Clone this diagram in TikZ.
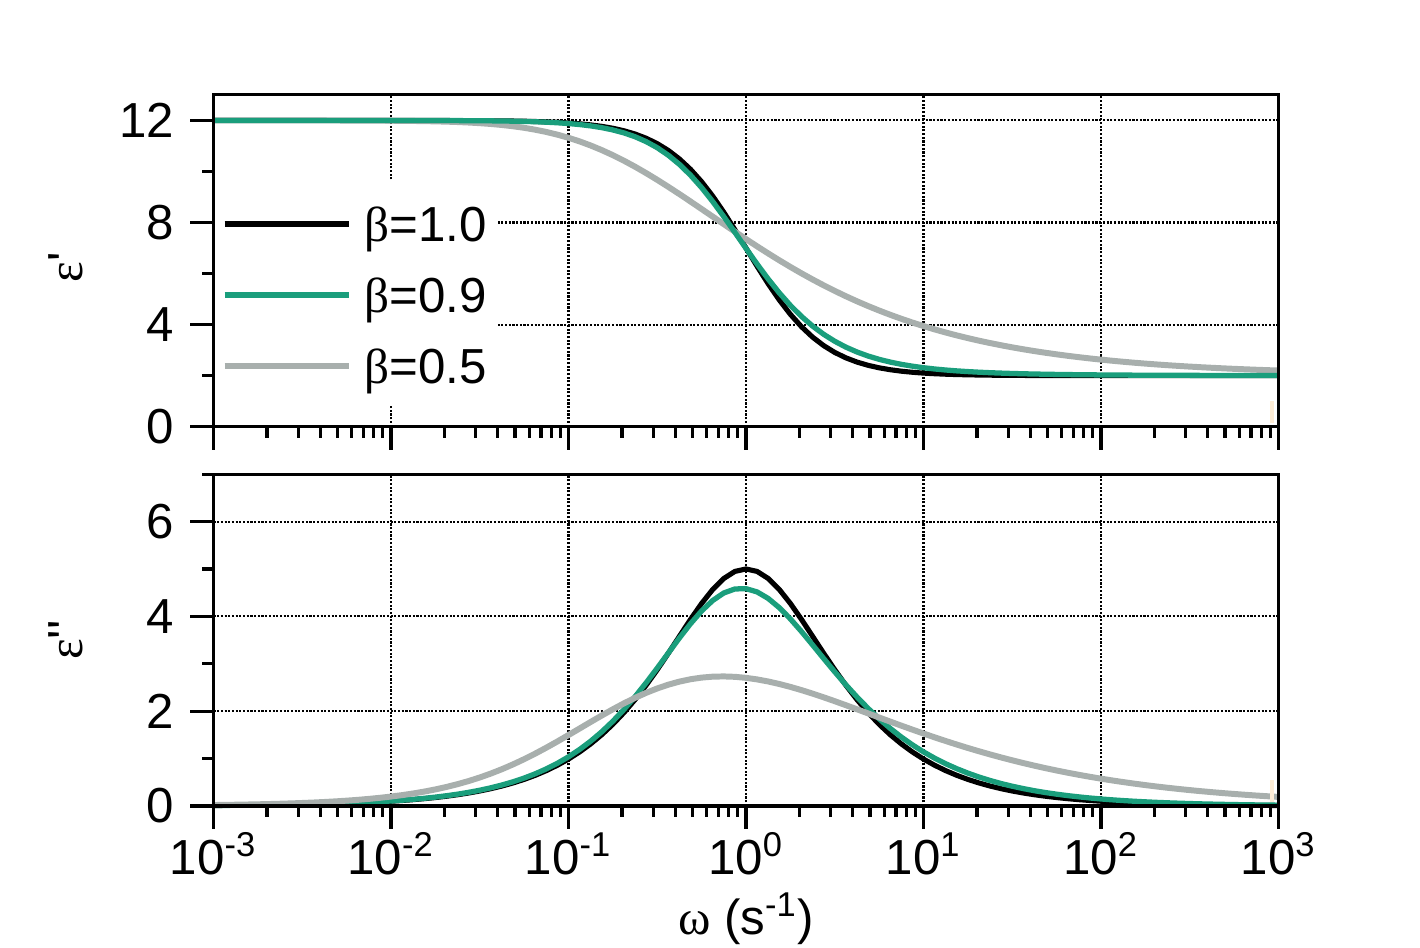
\documentclass[tikz,border=0pt]{standalone}
\usepackage{fontspec}
\setmainfont{Liberation Sans}
\newfontfamily\grk{Liberation Serif}
\newfontfamily\plain{Liberation Sans}
\definecolor{kgreen}{RGB}{26,158,124}
\definecolor{kgray}{RGB}{168,175,173}
\definecolor{peach}{RGB}{253,236,213}

\ExplSyntaxOn
\fp_new:N \l_kww_cb_fp
\fp_new:N \l_kww_sb_fp
\fp_new:N \l_kww_L_fp
\fp_new:N \l_kww_q_fp
\fp_new:N \l_kww_qmax_fp
\fp_new:N \l_kww_yb_fp
\fp_new:N \l_kww_wy_fp
\fp_new:N \l_kww_a_fp
\fp_new:N \l_kww_p_fp
\fp_new:N \l_kww_re_fp
\fp_new:N \l_kww_im_fp
\fp_new:N \l_kww_chia_fp
\fp_new:N \l_kww_chib_fp
\cs_new_protected:Npn \kwwdata #1#2#3
  {
    \tl_gclear:N #2
    \tl_gclear:N #3
    \fp_set:Nn \l_kww_cb_fp { cos((#1)*pi/4) }
    \fp_set:Nn \l_kww_sb_fp { sin((#1)*pi/4) }
    \int_step_inline:nnn { 0 } { 96 }
      {
        \fp_set:Nn \l_kww_L_fp { (##1/16-3)*ln(10) }
        \fp_compare:nNnTF { #1 } = { 1 }
          {
            \fp_set:Nn \l_kww_chia_fp { 1/(1+exp(2*\l_kww_L_fp)) }
            \fp_set:Nn \l_kww_chib_fp { exp(\l_kww_L_fp)*\l_kww_chia_fp }
          }
          {
            \fp_set:Nn \l_kww_q_fp { -8-max(\l_kww_L_fp,0) }
            \fp_set:Nn \l_kww_qmax_fp { min(ln(20/\l_kww_cb_fp)/(#1), ln(28.3)-\l_kww_L_fp) }
            \fp_zero:N \l_kww_re_fp
            \fp_zero:N \l_kww_im_fp
            \fp_while_do:nn { \l_kww_q_fp < \l_kww_qmax_fp }
              {
                \fp_set:Nn \l_kww_yb_fp { exp((#1)*\l_kww_q_fp) }
                \fp_set:Nn \l_kww_wy_fp { exp(\l_kww_q_fp+\l_kww_L_fp) }
                \fp_set:Nn \l_kww_a_fp { exp(\l_kww_q_fp-\l_kww_yb_fp*\l_kww_cb_fp-\l_kww_wy_fp*0.7071067812) }
                \fp_set:Nn \l_kww_p_fp { \l_kww_yb_fp*\l_kww_sb_fp-\l_kww_wy_fp*0.7071067812-pi/4 }
                \fp_add:Nn \l_kww_re_fp { \l_kww_a_fp*cos(\l_kww_p_fp) }
                \fp_add:Nn \l_kww_im_fp { \l_kww_a_fp*sin(\l_kww_p_fp) }
                \fp_add:Nn \l_kww_q_fp { 0.35 }
              }
            \fp_set:Nn \l_kww_chia_fp { 1+exp(\l_kww_L_fp)*0.35*\l_kww_im_fp }
            \fp_set:Nn \l_kww_chib_fp { exp(\l_kww_L_fp)*0.35*\l_kww_re_fp }
          }
        \int_compare:nNnT { ##1 } > { 0 }
          {
            \tl_gput_right:Nn #2 { -- }
            \tl_gput_right:Nn #3 { -- }
          }
        \tl_gput_right:Nx #2 { ( \fp_eval:n { ##1/16 } , \fp_eval:n { round(2+10*\l_kww_chia_fp,4) } ) }
        \tl_gput_right:Nx #3 { ( \fp_eval:n { ##1/16 } , \fp_eval:n { round(10*\l_kww_chib_fp,4) } ) }
      }
  }
\ExplSyntaxOff

\kwwdata{1}\reblack\imblack
\kwwdata{0.9}\regreen\imgreen
\kwwdata{0.5}\regray\imgray

\begin{document}
\begin{tikzpicture}[font=\fontsize{14}{16.8}\selectfont]
    \tikzstyle{ax}=[line width=0.9pt]
    \tikzstyle{grd}=[line width=0.6pt, dash pattern=on 0.6pt off 0.45pt]
    \tikzstyle{blk}=[black, line width=1.45pt, line join=round]
    \tikzstyle{grn}=[kgreen, line width=1.5pt, line join=round]
    \tikzstyle{gry}=[kgray, line width=1.7pt, line join=round]
    \tikzstyle{lab}=[inner sep=0pt]

    \useasboundingbox (0,0) rectangle (14.2,9.48);

    \begin{scope}[shift={(2.135cm,5.213cm)}, x=1.775cm, y=0.2552cm]
        \foreach \dec in {1,...,5} \draw[grd] (\dec,0) -- (\dec,13);
        \foreach \yv in {4,8,12} \draw[grd] (0,\yv) -- (6,\yv);
        \fill[white] (0.01,0.85) rectangle (1.6,9.66);

        \draw[blk] \reblack;
        \draw[gry] \regray;
        \draw[grn] \regreen;

        \draw[ax] (0,0) rectangle (6,13);
        \foreach \dec in {0,...,6} \draw[ax] (\dec,0) -- ++(0,-0.23cm);
        \foreach \dec in {0,...,5} \foreach \mm in {2,...,9}
            \draw[ax] ({\dec+log10(\mm)},0) -- ++(0,-0.11cm);
        \foreach \yv in {0,4,8,12} {
            \draw[ax] (0,\yv) -- ++(-0.24cm,0);
            \node[lab, anchor=east] (ya\yv) at ([xshift=-0.39cm]0,\yv) {\yv};
        }
        \foreach \yv in {2,6,10} \draw[ax] (0,\yv) -- ++(-0.12cm,0);

        \coordinate (l1) at (0.063,7.94);
        \coordinate (l2) at (0.063,5.16);
        \coordinate (l3) at (0.063,2.38);
        \draw[blk, line width=1.6pt] (l1) -- ++(0.7,0) coordinate (l1e);
        \draw[grn, line width=1.6pt] (l2) -- ++(0.7,0) coordinate (l2e);
        \draw[gry] (l3) -- ++(0.7,0) coordinate (l3e);
        \node[lab, anchor=base west] (t1) at ([xshift=0.15cm, yshift=-0.177cm]l1e) {{\grk β}=1.0};
        \node[lab, anchor=base west] (t2) at ([xshift=0.15cm, yshift=-0.177cm]l2e) {{\grk β}=0.9};
        \node[lab, anchor=base west] (t3) at ([xshift=0.15cm, yshift=-0.177cm]l3e) {{\grk β}=0.5};
    \end{scope}

    \begin{scope}[shift={(2.135cm,1.42cm)}, x=1.775cm, y=0.474cm]
        \foreach \dec in {1,...,5} \draw[grd] (\dec,0) -- (\dec,7);
        \foreach \yv in {2,4,6} \draw[grd] (0,\yv) -- (6,\yv);

        \draw[blk] \imblack;
        \draw[grn] \imgreen;
        \draw[gry] \imgray;

        \draw[ax] (0,0) rectangle (6,7);
        \foreach \dec in {0,...,6} \draw[ax] (\dec,0) -- ++(0,-0.23cm);
        \foreach \dec in {0,...,5} \foreach \mm in {2,...,9}
            \draw[ax] ({\dec+log10(\mm)},0) -- ++(0,-0.11cm);
        \foreach \yv in {0,2,4,6} {
            \draw[ax] (0,\yv) -- ++(-0.24cm,0);
            \node[lab, anchor=east] (yb\yv) at ([xshift=-0.39cm]0,\yv) {\yv};
        }
        \foreach \yv in {1,3,5,7} \draw[ax] (0,\yv) -- ++(-0.12cm,0);
        \foreach \dec/\ex in {0/-3,1/-2,2/-1,3/0,4/1,5/2,6/3}
            \node[lab, anchor=base] (xt\dec) at ([yshift=-0.69cm]\dec,0) {10\textsuperscript{\ex}};
    \end{scope}

    \fill[peach] (12.70,5.253) rectangle (12.74,5.473);
    \fill[peach] (12.70,1.463) rectangle (12.74,1.68);

    \node[rotate=90] (epsa) at (0.66,6.81) {{\grk ε}{\plain '}};
    \node[rotate=90] (epsb) at (0.66,3.08) {{\grk ε}{\plain ''}};
    \node[lab, anchor=base] (xlab) at (7.46,0.13) {{\grk ω} (s\textsuperscript{-1})};
\end{tikzpicture}
\end{document}
